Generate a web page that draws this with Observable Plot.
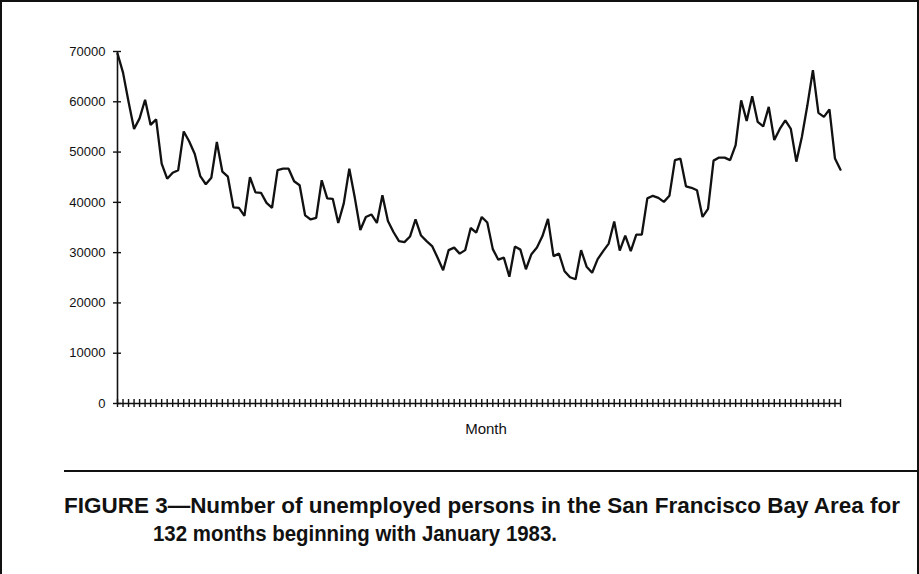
<!DOCTYPE html>
<html>
<head>
<meta charset="utf-8">
<script src="https://cdn.jsdelivr.net/npm/d3@7"></script>
<script src="https://cdn.jsdelivr.net/npm/@observablehq/plot@0.6"></script>
<style>
  html, body { margin: 0; padding: 0; background: #fff; }
  #figure { position: relative; width: 919px; height: 574px; overflow: hidden; background: #fff;
            font-family: "Liberation Sans", Arial, Helvetica, sans-serif; color: #111; }
  #frame { position: absolute; left: 0; top: 0; width: 919px; height: 574px; box-sizing: border-box;
           border-top: 2px solid #111; border-left: 2px solid #111; border-right: 2px solid #111; pointer-events: none; }
  #chart { position: absolute; left: 0; top: 0; }
  #rule { position: absolute; left: 64px; right: 0; top: 470px; height: 2px; background: #111; }
  .cap { position: absolute; font-weight: bold; font-size: 22.5px; line-height: 1; white-space: nowrap;
         transform-origin: 0 0; }
  #cap1 { left: 64px; top: 495px; }
  #cap2 { left: 153px; top: 523px; }
</style>
</head>
<body>
<div id="figure">
  <div id="chart"></div>
  <div id="rule"></div>
  <div class="cap" id="cap1" data-span="836">FIGURE 3—Number of unemployed persons in the San Francisco Bay Area for</div>
  <div class="cap" id="cap2" data-span="404">132 months beginning with January 1983.</div>
  <div id="frame"></div>
</div>
<script>
// Monthly count of unemployed persons, San Francisco Bay Area, Jan 1983 onward (132 months)
const unemployed = [
  69600, 65800, 60000, 54600, 56700, 60400, 55400, 56500, 47700, 44700, 45900, 46400,
  54100, 52100, 49600, 45200, 43600, 44900, 52000, 46100, 45100, 39000, 38900, 37300,
  45000, 42000, 41900, 39900, 38900, 46400, 46700, 46700, 44200, 43400, 37400, 36600,
  36900, 44400, 40800, 40700, 35900, 39800, 46700, 40900, 34500, 37100, 37600, 35900,
  41400, 36300, 34100, 32300, 32100, 33200, 36600, 33400, 32300, 31300, 29000, 26500,
  30500, 31000, 29800, 30500, 34900, 34000, 37100, 36000, 30700, 28600, 29000, 25200,
  31200, 30600, 26700, 29700, 31000, 33300, 36700, 29300, 29800, 26300, 25100, 24700,
  30500, 27200, 26000, 28700, 30300, 31800, 36200, 30400, 33400, 30300, 33600, 33600,
  40800, 41300, 40900, 40100, 41300, 48400, 48700, 43200, 42900, 42400, 37100, 38700,
  48300, 48900, 48900, 48400, 51400, 60300, 56200, 61100, 56000, 55100, 59000, 52400,
  54600, 56300, 54600, 48100, 53000, 59300, 66300, 57800, 57000, 58500, 48700, 46500
];
const months = d3.range(unemployed.length);           // month index, 0 = January 1983
const yTicks = [0, 10000, 20000, 30000, 40000, 50000, 60000, 70000];
const xLabel = "Month";

const series = months.map(i => ({month: i, value: unemployed[i]}));
const ink = "#111";

const chart = Plot.plot({
  width: 919,
  height: 460,
  marginLeft: 117,
  marginRight: 79,
  marginTop: 51,
  marginBottom: 57,
  style: {fontFamily: "'Liberation Sans', Arial, sans-serif", fontSize: "13px", color: ink, background: "transparent"},
  x: {domain: [0, months.length - 1], axis: null},
  y: {domain: [0, 70000], axis: null},
  marks: [
    // axis lines
    Plot.ruleX([0], {y1: 0, y2: 70000, stroke: ink, strokeWidth: 1.6}),
    Plot.ruleY([0], {x1: 0, x2: months.length - 1, stroke: ink, strokeWidth: 1.6}),
    // cross ticks on both axes
    Plot.ruleX(months, {x: d => d, y1: 0, y2: 0, insetTop: -4, insetBottom: -4, stroke: ink, strokeWidth: 1.4}),
    Plot.ruleY(yTicks, {y: d => d, x1: 0, x2: 0, insetLeft: -4, insetRight: -4, stroke: ink, strokeWidth: 1.4}),
    // y tick labels
    Plot.text(yTicks, {x: 0, y: d => d, text: d => String(d), textAnchor: "end", dx: -12, fill: ink}),
    // x axis title
    Plot.text([xLabel], {frameAnchor: "bottom", dx: 7, dy: 30, fill: ink, fontSize: 15}),
    // the series
    Plot.line(series, {x: "month", y: "value", stroke: ink, strokeWidth: 2.3, strokeLinejoin: "miter"})
  ]
});
document.getElementById("chart").appendChild(chart);

// caption lines are set in a narrow bold face: squeeze each to its printed span
document.querySelectorAll(".cap").forEach(el => {
  const target = +el.dataset.span;
  const w = el.getBoundingClientRect().width;
  if (w > 0) el.style.transform = `scaleX(${target / w})`;
});
</script>
</body>
</html>
